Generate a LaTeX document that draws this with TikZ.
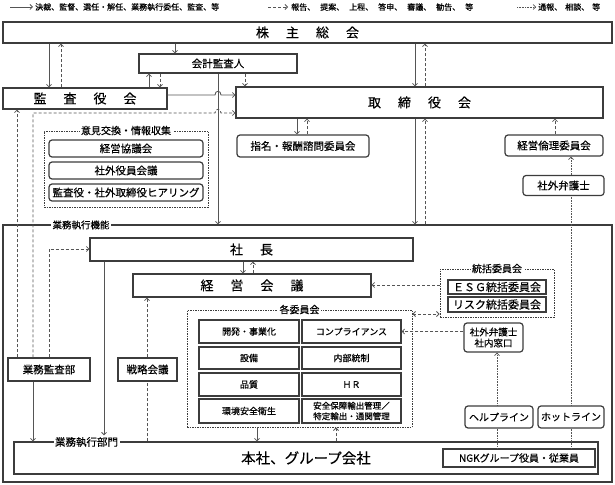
\documentclass[tikz,border=0pt]{standalone}
\usepackage{fontspec}
\setmainfont{Noto Sans CJK JP}[FakeBold=0.35]
\usetikzlibrary{arrows.meta,calc}
\definecolor{lncol}{HTML}{3C3C3C}
\definecolor{arcol}{HTML}{555555}
\newcommand{\bgap}{\hspace{17pt}}
\tikzset{
  >={Straight Barb[length=2.5pt,width=5pt]},
  boxnode/.style = {align=center, inner sep=0pt, text centered, draw=lncol, line width=1.2pt, fill=white},
  box_s/.style = {boxnode, rectangle, font=\fontsize{10.5}{12}\selectfont},
  box_r/.style = {boxnode, rectangle, rounded corners=3pt, font=\fontsize{10.5}{12}\selectfont},
  box_b/.style = {box_s, font=\fontsize{13}{15}\selectfont},
  cell/.style = {box_s, minimum width=100pt, font=\fontsize{9}{11}\selectfont},
  frame_n/.style = {draw=lncol, line width=1.2pt, inner sep=0pt},
  grp_d/.style = {draw=lncol, line width=0.9pt, dash pattern=on 1.5pt off 1pt, inner sep=0pt},
  lbl_t/.style = {fill=white, inner sep=1.5pt, font=\fontsize{10}{12}\selectfont},
  leg_t/.style = {anchor=west, inner sep=0pt, font=\fontsize{8}{10}\selectfont},
  arr_s/.style = {->, draw=arcol, line width=0.8pt},
  arr_d/.style = {->, draw=arcol, line width=0.8pt, dash pattern=on 3pt off 2pt},
  arr_p/.style = {draw=arcol, line width=0.7pt, dash pattern=on 0.8pt off 0.8pt}
}

\begin{document}
\begin{tikzpicture}[x=1pt, y=-1pt]
	\useasboundingbox (0,0) rectangle (615,484);
	\foreach \x in {17,33,49,61,104,147,149,160,175,218,243,245,253,257,297,307,336,415,425,497,555,571}
		\coordinate (v\x) at (\x,0);
	\foreach \y in {95,113,249,285,314}
		\coordinate (h\y) at (0,\y);

	\node [leg_t] (leg_s) at (35,7) {決裁、監督、選任・解任、業務執行委任、監査、等};
	\node [leg_t] (leg_d) at (291,7) {報告、\hspace{5pt}提案、\hspace{5pt}上程、\hspace{5pt}答申、\hspace{5pt}審議、\hspace{5pt}勧告、\hspace{5pt}等};
	\node [leg_t] (leg_p) at (538,7) {通報、\hspace{3pt}相談、\hspace{3pt}等};
	\draw [arr_s] ([xshift=-25pt]leg_s.west) -- ([xshift=-2pt]leg_s.west);
	\draw [arr_d] ([xshift=-23pt]leg_d.west) -- ([xshift=-3pt]leg_d.west);
	\draw [arr_p, ->] ([xshift=-21pt]leg_p.west) -- ([xshift=-2pt]leg_p.west);

	\node [frame_n, minimum width=609pt, minimum height=257pt] (frame) at (307.5,353.5) {};
	\node [lbl_t, font=\fontsize{9.5}{11}\selectfont] (frame_t) at (81,225) {業務執行機能};

	\node [box_b, minimum width=609pt, minimum height=21pt] (kabunushi) at (307.5,32.5) {株\bgap 主\bgap 総\bgap 会};
	\node [box_s, minimum width=158pt, minimum height=19pt] (kaikei) at (218,63.5) {会計監査人};
	\node [box_b, minimum width=164pt, minimum height=21pt] (kansayaku) at (85,98.5) {監\bgap 査\bgap 役\bgap 会};
	\node [box_b, minimum width=367pt, minimum height=31pt] (torishimari) at (419.5,102.5) {取\bgap 締\bgap 役\bgap 会};
	\node [box_r, minimum width=132pt, minimum height=22pt] (shimei) at (303,146) {指名・報酬諮問委員会};
	\node [box_r, minimum width=98pt, minimum height=21pt] (rinri) at (554,145.5) {経営倫理委員会};
	\node [box_r, minimum width=81pt, minimum height=20pt] (bengo) at (563.5,185.5) {社外弁護士};

	\node [grp_d, minimum width=164pt, minimum height=76pt] (iken) at (126,169) {};
	\node [lbl_t] (iken_t) at (iken.north) {意見交換・情報収集};
	\node [box_r, minimum width=154pt, minimum height=17pt] (kyogi) at (126,148.5) {経営協議会};
	\node [box_r, minimum width=154pt, minimum height=17pt] (gaibu) at (126,170.5) {社外役員会議};
	\node [box_r, minimum width=154pt, minimum height=17pt] (hearing) at (126,192.5) {監査役・社外取締役ヒアリング};

	\node [box_b, minimum width=323pt, minimum height=23pt] (shacho) at (251.5,249.5) {社\bgap 長};
	\node [box_b, minimum width=238pt, minimum height=23pt] (keiei) at (252,285.5) {経\bgap 営\bgap 会\bgap 議};
	\node [box_s, minimum width=82pt, minimum height=23pt] (gyomukansa) at (49,369.5) {業務監査部};
	\node [box_s, minimum width=59pt, minimum height=23pt] (senryaku) at (147.5,369.5) {戦略会議};

	\node [grp_d, minimum width=225pt, minimum height=117pt] (kaku) at (299.5,368.5) {};
	\node [lbl_t] (kaku_t) at (kaku.north) {各委員会};
	\foreach \r/\y/\h/\a/\b in {1/331.5/23/開発・事業化/コンプライアンス, 2/358/22/設備/内部統制, 3/384.5/23/品質/ＨＲ}{
		\node [cell, minimum height=\h pt] (c\r1) at (249,\y) {\a};
		\node [cell, minimum width=99pt, minimum height=\h pt] (c\r2) at (351.5,\y) {\b};
	}
	\node [cell, minimum height=24pt] (c41) at (249,411) {環境安全衛生};
	\node [cell, minimum width=99pt, minimum height=24pt, font=\fontsize{8.5}{10.5}\selectfont] (c42) at (351.5,411) {安全保障輸出管理／\\特定輸出・通関管理};

	\node [grp_d, minimum width=114pt, minimum height=48pt] (toukatsu) at (497,293) {};
	\node [lbl_t] (toukatsu_t) at (toukatsu.north) {統括委員会};
	\node [box_s, minimum width=98pt, minimum height=14pt, font=\fontsize{11}{12}\selectfont] (esg) at (497,287) {ＥＳＧ統括委員会};
	\node [box_s, minimum width=98pt, minimum height=15pt, font=\fontsize{11}{12}\selectfont] (risk) at (497,304.5) {リスク統括委員会};
	\node [box_r, minimum width=59pt, minimum height=29pt, font=\fontsize{9.5}{11}\selectfont] (madoguchi) at (493.5,337.5) {社外弁護士\\社内窓口};

	\node [box_s, minimum width=584pt, minimum height=32pt, font=\fontsize{14.5}{16}\selectfont] (honsha) at (306,458) {本社、グループ会社};
	\node [lbl_t, font=\fontsize{10.5}{12}\selectfont] (honsha_t) at (86.5,442) {業務執行部門};
	\node [box_s, minimum width=152pt, minimum height=18pt, font=\fontsize{10}{12}\selectfont] (ngk) at (519,458) {NGKグループ役員・従業員};
	\node [box_r, minimum width=68pt, minimum height=22pt, font=\fontsize{10}{12}\selectfont] (help) at (499,417) {ヘルプライン};
	\node [box_r, minimum width=66pt, minimum height=22pt, font=\fontsize{10}{12}\selectfont] (hot) at (571,417) {ホットライン};

	\draw [arr_s] (v49 |- kabunushi.south) -- (v49 |- kansayaku.north);
	\draw [arr_d] (v61 |- kansayaku.north) -- (v61 |- kabunushi.south);
	\draw [arr_s] (v175 |- kabunushi.south) -- (v175 |- kaikei.north);
	\draw [arr_s] (v415 |- kabunushi.south) -- (v415 |- torishimari.north);
	\draw [arr_d] (v425 |- torishimari.north) -- (v425 |- kabunushi.south);
	\draw [arr_s] (v149 |- kansayaku.north) -- (v149 |- kaikei.south);
	\draw [arr_d] (v160 |- kaikei.south) -- (v160 |- kansayaku.north);
	\draw [arr_d] (v245 |- kaikei.south) -- (v245 |- torishimari.north);
	\draw [arr_s] (v218 |- kaikei.south) -- (v218 |- frame.north);
	\draw [arr_s] (kansayaku.east |- h95) -- ([xshift=-3pt]v218 |- h95) .. controls +(0,-5) and +(0,-5) .. ([xshift=3pt]v218 |- h95) -- (torishimari.west |- h95);
	\draw [arr_d] (v33 |- gyomukansa.north) -- (v33 |- h113) -- ([xshift=-3pt]v218 |- h113) .. controls +(0,-5) and +(0,-5) .. ([xshift=3pt]v218 |- h113) -- (torishimari.west |- h113);

	\draw [arr_s] (v297 |- torishimari.south) -- (v297 |- shimei.north);
	\draw [arr_d] (v307 |- shimei.north) -- (v307 |- torishimari.south);
	\draw [arr_s] (v415 |- torishimari.south) -- (v415 |- frame.north);
	\draw [arr_d] (v425 |- frame.north) -- (v425 |- torishimari.south);
	\draw [arr_d] (v555 |- rinri.north) -- (v555 |- torishimari.south);
	\draw [arr_p, ->] (v571 |- bengo.north) -- (v571 |- rinri.south);
	\draw [arr_p] (v571 |- hot.north) -- (v571 |- bengo.south);
	\draw [arr_p] (v571 |- ngk.north) -- (v571 |- hot.south);
	\draw [arr_p] (v497 |- ngk.north) -- (v497 |- help.south);
	\draw [arr_p, ->] (v497 |- help.north) -- (v497 |- madoguchi.south);

	\draw [arr_d] (v17 |- gyomukansa.north) -- (v17 |- kansayaku.south);
	\draw [arr_d] (v49 |- gyomukansa.north) -- (v49 |- h249) -- (shacho.west |- h249);
	\draw [arr_s] (v33 |- gyomukansa.south) -- (v33 |- honsha.north);
	\draw [arr_s] (v104 |- shacho.south) -- (v104 |- honsha_t.north);
	\draw [arr_s] (v243 |- shacho.south) -- (v243 |- keiei.north);
	\draw [arr_d] (v253 |- keiei.north) -- (v253 |- shacho.south);
	\draw [arr_d] (v147 |- senryaku.north) -- (v147 |- keiei.south);
	\draw [arr_d, -] (v147 |- honsha.north) -- (v147 |- senryaku.south);
	\draw [arr_d] (toukatsu.west |- h285) -- (keiei.east |- h285);
	\draw [arr_d, <->] (kaku.east |- h314) -- (toukatsu.west |- h314);
	\draw [arr_d] (madoguchi.west |- c12) -- (c12.east);
	\draw [arr_s] (v257 |- kaku.south) -- (v257 |- honsha.north);
	\draw [arr_d] (v336 |- honsha.north) -- (v336 |- kaku.south);
\end{tikzpicture}
\end{document}
